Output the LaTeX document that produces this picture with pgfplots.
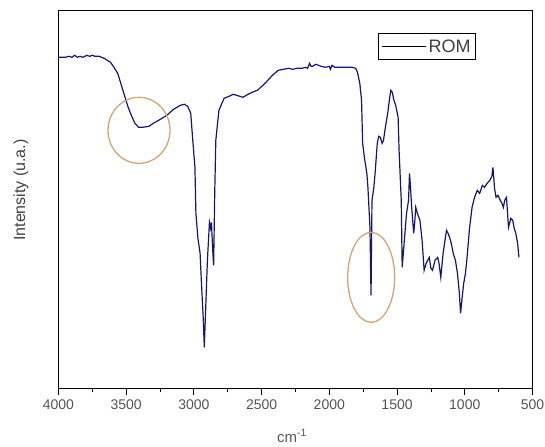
\documentclass[border=0pt]{standalone}
\usepackage{pgfplots}
\pgfplotsset{compat=1.18}
\usepackage{fontspec}
\setmainfont{Liberation Sans}
\definecolor{spec}{RGB}{22,22,112}
\definecolor{ring}{RGB}{210,165,115}
\definecolor{lbl}{RGB}{85,85,85}
\begin{document}
\begin{tikzpicture}
\useasboundingbox (-58.4pt,-57.7pt) rectangle (486.5pt,388.3pt);
\begin{axis}[
  scale only axis, width=474pt, height=377.6pt,
  x dir=reverse, xmin=500, xmax=4000, ymin=0, ymax=377.6,
  xtick={500,1000,...,4000}, minor x tick num=1,
  ytick=\empty,
  axis line style={line width=1pt, black},
  tick align=outside, xtick pos=bottom,
  major tick length=7pt, minor tick length=4pt,
  every tick/.style={black, line width=0.8pt},
  /pgf/number format/assume math mode=true,
  /pgf/number format/1000 sep={},
  xticklabel style={font=\fontsize{14}{14}\selectfont, text=lbl, yshift=-1pt},
  xlabel={cm\textsuperscript{-1}},
  xlabel style={at={(axis description cs:0.493,-0.126)}, anchor=center, font=\fontsize{15}{15}\selectfont, text=lbl},
  ylabel={Intensity (u.a.)},
  ylabel style={at={(axis description cs:-0.079,0.525)}, anchor=center, font=\fontsize{16}{16}\selectfont, text=black!75},
  legend style={at={(axis description cs:0.674,0.941)}, anchor=north west, draw=black, line width=1.1pt,
    font=\fontsize{18}{18}\selectfont, inner xsep=3pt, inner ysep=4pt, text=black!75},
  legend cell align=left,
  legend image code/.code={\draw[black, line width=1pt] (0pt,0pt) -- (44pt,0pt);},
]
\addplot[spec, line width=1.2pt] coordinates {
(4000,331) (3950,331) (3920,332) (3900,331) (3880,333) (3860,331) (3840,332) (3820,331)
(3790,333) (3770,332) (3750,333) (3730,332) (3700,332) (3662,330) (3640,328) (3615,326)
(3590,321) (3562,315) (3535,303) (3508,291) (3485,281) (3462,273) (3435,265) (3408,261)
(3380,261) (3331,262) (3300,265) (3260,268) (3200,273) (3150,279) (3100,283) (3070,284)
(3046,282) (3023,275) (3008,248) (2992,221) (2985,175) (2970,150) (2954,135) (2946,111)
(2931,71) (2923,41) (2915,71) (2900,128) (2885,166) (2877,160) (2870,166) (2862,141)
(2854,123) (2846,195) (2838,248) (2815,278) (2777,290) (2740,292) (2710,294) (2685,293)
(2660,292) (2638,291) (2600,294) (2570,296) (2531,298) (2490,303) (2454,308) (2420,313)
(2377,318) (2340,319) (2300,320) (2270,319) (2240,320) (2200,320) (2177,321) (2160,320)
(2146,325) (2135,322) (2123,322) (2100,324) (2060,322) (2030,321) (2000,322) (1992,319)
(1980,323) (1960,321) (1900,321) (1831,321) (1805,320) (1792,316) (1775,305) (1762,288)
(1754,245) (1740,230) (1723,215) (1715,201) (1700,161) (1692,93) (1685,188) (1672,200)
(1662,215) (1646,245) (1635,252) (1623,251) (1610,245) (1600,248) (1585,262) (1569,275)
(1555,290) (1546,298) (1535,296) (1523,288) (1510,283) (1492,271) (1485,238) (1469,188)
(1462,121) (1446,148) (1430,175) (1415,188) (1408,215) (1400,200) (1392,181) (1377,155)
(1370,165) (1362,181) (1350,175) (1331,168) (1315,148) (1300,118) (1285,125) (1262,131)
(1250,120) (1238,118) (1220,128) (1200,131) (1190,125) (1177,111) (1160,135) (1146,148)
(1135,158) (1123,155) (1110,150) (1100,145) (1085,135) (1069,128) (1054,115) (1040,95)
(1031,75) (1020,90) (1008,105) (995,115) (985,128) (965,160) (946,181) (930,190)
(908,198) (890,195) (870,203) (854,201) (835,205) (815,208) (800,212) (792,221)
(780,200) (769,191) (755,193) (738,188) (725,185) (715,181) (705,188) (692,191)
(677,161) (660,170) (646,168) (635,160) (623,155) (610,145) (600,131)
};
\addlegendentry{ROM}
\draw[ring, line width=1.3pt] (axis cs:3405,258) ellipse [x radius=31pt, y radius=33pt];
\draw[ring, line width=1.3pt] (axis cs:1691,111) ellipse [x radius=23.5pt, y radius=45pt];
\end{axis}
\end{tikzpicture}
\end{document}
